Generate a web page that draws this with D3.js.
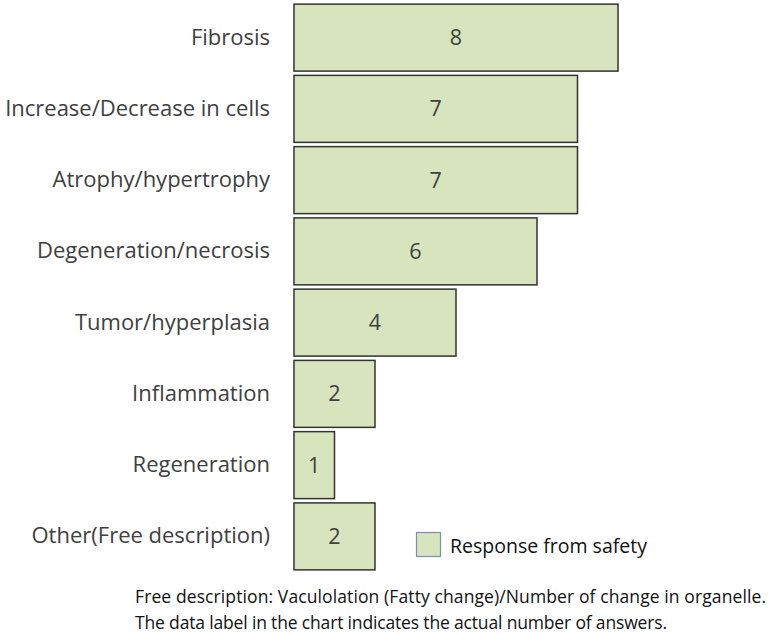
<!DOCTYPE html>
<html><head><meta charset="utf-8">
<script src="https://cdn.jsdelivr.net/npm/d3@7"></script>
<style>body{margin:0;background:#fff}svg{display:block}</style>
</head><body>
<script>
const categories = ["Fibrosis","Increase/Decrease in cells","Atrophy/hypertrophy","Degeneration/necrosis","Tumor/hyperplasia","Inflammation","Regeneration","Other(Free description)"];
const values = [8,7,7,6,4,2,1,2];
const seriesName = "Response from safety";
const notes = ["Free description: Vaculolation (Fatty change)/Number of change in organelle.","The data label in the chart indicates the actual number of answers."];
const noteWidths = [631, 532];

const W=771,H=634;
const svg=d3.select("body").append("svg").attr("width",W).attr("height",H);
const x=d3.scaleLinear().domain([0,8]).range([294,618]);
const y=d3.scaleBand().domain(categories).range([2,572]).paddingInner(0.06).paddingOuter(0.03);
const fill="#d7e4bd", txt="#404040";
const font="'Open Sans', 'DejaVu Sans', sans-serif";

svg.selectAll("rect.bar").data(values).join("rect").attr("class","bar")
  .attr("x",x(0)).attr("y",(d,i)=>y(categories[i]))
  .attr("width",d=>x(d)-x(0)).attr("height",y.bandwidth())
  .attr("fill",fill).attr("stroke","#333").attr("stroke-width",1.5);

svg.selectAll("text.val").data(values).join("text").attr("class","val")
  .attr("x",d=>(x(0)+x(d))/2).attr("y",(d,i)=>y(categories[i])+y.bandwidth()/2)
  .attr("dy","0.35em").attr("text-anchor","middle")
  .attr("font-family",font).attr("font-size",21.5).attr("fill",txt).text(d=>d);

const yAxis=d3.axisLeft(y).tickSize(0).tickPadding(24);
const ga=svg.append("g").attr("transform",`translate(${x(0)},0)`).call(yAxis);
ga.select(".domain").remove();
ga.selectAll("text").attr("font-family",font).attr("font-size",22).attr("fill",txt);

// legend
const lg=svg.append("g");
lg.append("rect").attr("x",416.5).attr("y",532.5).attr("width",24).attr("height",24)
  .attr("fill",fill).attr("stroke","#7f8fa6").attr("stroke-width",1.2);
lg.append("text").attr("x",450).attr("y",546).attr("dy","0.35em")
  .attr("font-family",font).attr("font-size",19.5).attr("fill","#111").text(seriesName);

svg.selectAll("text.note").data(notes).join("text").attr("class","note")
  .attr("x",135).attr("y",(d,i)=>597+i*26).attr("dy","0.35em")
  .attr("textLength",(d,i)=>noteWidths[i]).attr("lengthAdjust","spacing")
  .attr("font-family",font).attr("font-size",17.5).attr("fill","#111").text(d=>d);
</script>
</body></html>
